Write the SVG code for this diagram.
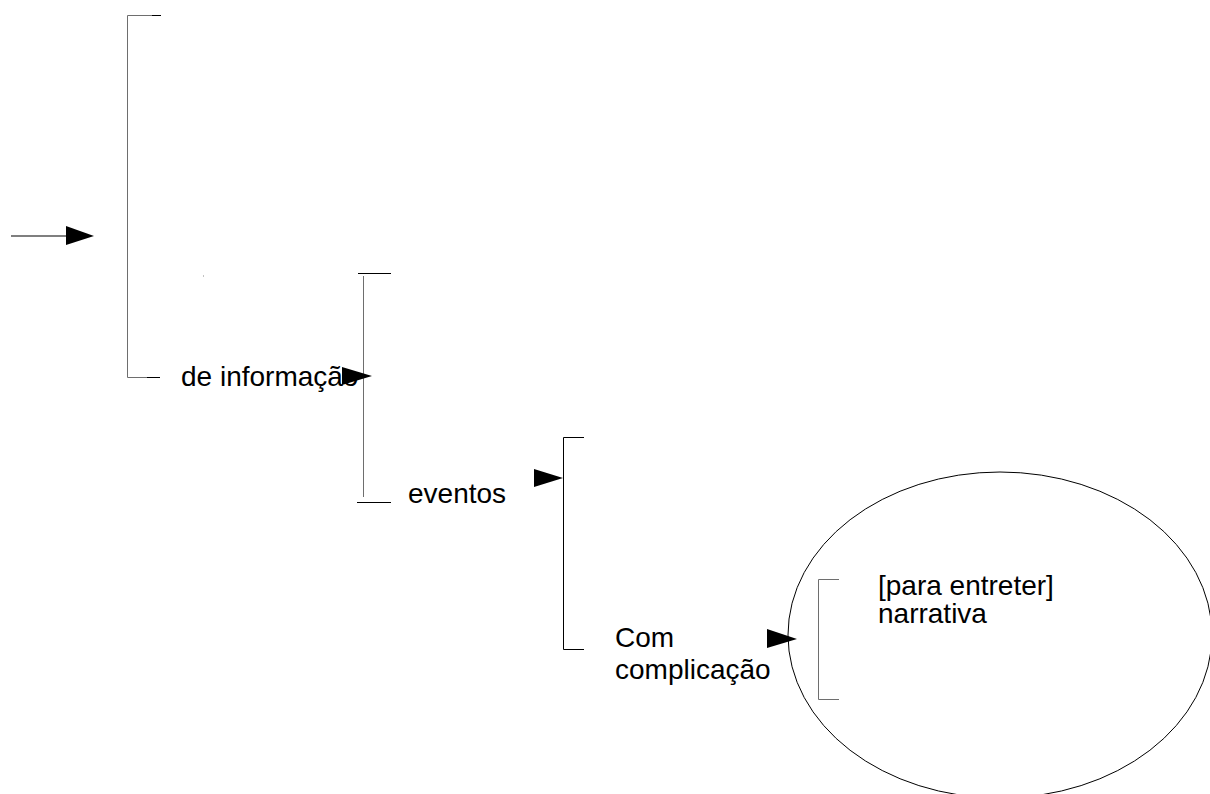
<svg xmlns="http://www.w3.org/2000/svg" width="1210" height="794" viewBox="0 0 1210 794">
  <style>
    .lbl { font-family: "Liberation Sans", Arial, sans-serif; font-size: 28px; fill: #000; }
    .brk { fill: none; stroke: #6e6e6e; stroke-width: 1; }
    .brk-dark { fill: none; stroke: #000; stroke-width: 1; }
    .wire { fill: none; stroke: #000; stroke-width: 1.2; }
    .head { fill: #000; stroke: none; }
  </style>
  <rect width="1210" height="794" fill="#fff"/>

  <!-- first bracket: the main classification -->
  <g id="bracket-main">
    <path class="brk" d="M152 15.5 H127.5 V377.5 H147"/>
    <path class="brk-dark" d="M152 15.5 H161 M147 377.5 H160"/>
    <rect x="203" y="275.5" width="1" height="1" fill="#888"/>
    <text class="lbl" x="181" y="386">de informação</text>
  </g>

  <!-- second bracket -->
  <g id="bracket-info">
    <path class="brk" d="M363.5 276 V497"/>
    <path class="brk-dark" d="M358 273.5 H391 M357 502.5 H391"/>
    <text class="lbl" x="408" y="503">eventos</text>
  </g>

  <!-- third bracket -->
  <g id="bracket-events">
    <path class="brk-dark" d="M584 437.5 H563.5 V649.5 H584"/>
    <text class="lbl" x="615" y="647">Com</text>
    <text class="lbl" x="615" y="678.5">complicação</text>
  </g>

  <!-- circled end node -->
  <g id="node-narrativa">
    <ellipse cx="1000" cy="635" rx="212" ry="163" fill="none" stroke="#000" stroke-width="1"/>
    <path class="brk" d="M839 579.5 H818.5 V699.5 H839" stroke="#858585" stroke-width="1.3"/>
    <text class="lbl" x="878" y="595">[para entreter]</text>
    <text class="lbl" x="878" y="623">narrativa</text>
  </g>

  <!-- connectors -->
  <g id="connectors">
    <line class="wire" x1="11" y1="236" x2="67" y2="236"/>
    <polygon class="head" points="66,226 94,236 66,245"/>
    <polygon class="head" points="342,367 372,376 342,385"/>
    <polygon class="head" points="534,469 563,478 534,487"/>
    <polygon class="head" points="767,629 797,639 767,648"/>
  </g>
</svg>
